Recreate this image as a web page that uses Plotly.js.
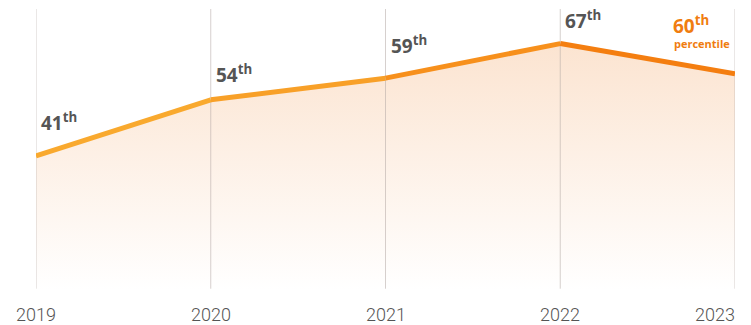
<!DOCTYPE html>
<html><head><meta charset="utf-8">
<script src="https://cdn.plot.ly/plotly-3.0.1.min.js"></script>
<style>html,body{margin:0;padding:0;background:#fff;}#chart{width:751px;height:325px;}</style>
</head><body><div id="chart"></div>
<script>
const years = ['2019','2020','2021','2022','2023'];
const percentiles = [41, 54, 59, 67, 60];
const labels = ['41<sup>th</sup>','54<sup>th</sup>','59<sup>th</sup>','67<sup>th</sup>','60<sup>th</sup>'];
const lastNote = 'percentile';

const yRange = [10, 75];
const segColors = ['#F9A92E','#F8A028','#F7901C','#F47E10'];
const labelShift = [34, 26, 33, 24, 49];
const labelXShift = [4, 4, 4, 4, -63];

const traces = [];
traces.push({
  x: years, y: percentiles, type: 'scatter', mode: 'none',
  fill: 'tozeroy',
  fillgradient: {type: 'vertical', start: yRange[0], stop: yRange[1],
    colorscale: [[0,'rgba(255,255,255,1)'],[1,'rgba(251,224,202,1)']]},
  hoverinfo: 'skip', showlegend: false
});
const gx = [], gy = [];
years.forEach(yr => { gx.push(yr, yr, null); gy.push(yRange[0] + 0.3, yRange[1], null); });
traces.push({x: gx, y: gy, type: 'scatter', mode: 'lines', line: {color: 'rgba(180,170,165,0.55)', width: 1},
  hoverinfo: 'skip', showlegend: false, cliponaxis: false});
for (let i = 0; i < years.length - 1; i++) {
  traces.push({
    x: [years[i], years[i+1]], y: [percentiles[i], percentiles[i+1]],
    type: 'scatter', mode: 'lines',
    line: {color: segColors[i], width: 5},
    hoverinfo: 'skip', showlegend: false
  });
}

const annotations = [];
const n = years.length;
years.forEach((yr, i) => {
  const last = i === n - 1;
  annotations.push({x: i, y: percentiles[i], xref: 'x', yref: 'y', text: '<b>' + labels[i] + '</b>',
    showarrow: false, xanchor: 'left', yanchor: 'middle', align: 'left', borderpad: 0,
    xshift: labelXShift[i], yshift: labelShift[i],
    font: {family: 'Open Sans, sans-serif', size: 19, color: last ? '#F07D10' : '#555555'}});
  annotations.push({x: i, y: 0, xref: 'x', yref: 'paper', text: yr, showarrow: false,
    xanchor: last ? 'right' : 'center', yanchor: 'top', xshift: last ? 2 : 0, yshift: -12,
    font: {family: 'Roboto, sans-serif', size: 18, color: '#555555', weight: 300}});
});
annotations.push({x: n - 1, y: percentiles[n - 1], xref: 'x', yref: 'y', text: '<b>' + lastNote + '</b>',
  showarrow: false, xanchor: 'right', yanchor: 'middle', xshift: -4, yshift: 30, borderpad: 0,
  font: {family: 'Open Sans, sans-serif', size: 11, color: '#F07D10'}});

const layout = {
  width: 751, height: 325,
  margin: {l: 36, r: 16, t: 9, b: 35},
  paper_bgcolor: '#ffffff', plot_bgcolor: '#ffffff',
  xaxis: {type: 'category', range: [0, 4], showgrid: false, zeroline: false, showline: false,
    ticks: '', showticklabels: false},
  yaxis: {range: yRange, visible: false, showgrid: false, zeroline: false},
  annotations: annotations,
  showlegend: false
};
Plotly.newPlot('chart', traces, layout, {displayModeBar: false, staticPlot: true});
</script></body></html>
